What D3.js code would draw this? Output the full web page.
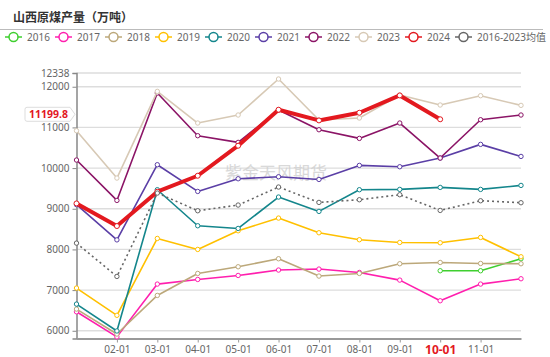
<!DOCTYPE html>
<html><head><meta charset="utf-8">
<script src="https://cdn.jsdelivr.net/npm/d3@7"></script>
<style>body{margin:0;background:#fff}svg{display:block;font-family:"Noto Sans","Noto Sans CJK SC",sans-serif}</style>
</head><body>
<svg id="c" width="550" height="357"></svg>
<script>
const title = "山西原煤产量（万吨）";
const watermark = "紫金天风期货";
const months = ["01-01","02-01","03-01","04-01","05-01","06-01","07-01","08-01","09-01","10-01","11-01","12-01"];
const shownMonths = ["02-01","03-01","04-01","05-01","06-01","07-01","08-01","09-01","10-01","11-01"];
const highlightMonth = "10-01";
const yTicks = [6000,7000,8000,9000,10000,11000,12000,12338];
const yMin = 5810, yMax = 12338;

const s2016 = [null,null,null,null,null,null,null,null,null,7476,7476,7771];
const s2017 = [6467,5850,7148,7262,7360,7493,7517,7434,7246,6738,7148,7279];
const s2018 = [6533,5920,6869,7410,7574,7771,7345,7410,7648,7680,7655,7648];
const s2019 = [7050,6380,8270,8000,8459,8771,8410,8238,8172,8164,8295,7820];
const s2020 = [6656,5995,9468,8582,8516,9288,8935,9468,9476,9525,9476,9574];
const s2021 = [9100,8235,10083,9426,9738,9787,9721,10066,10033,10247,10583,10287];
const s2022 = [10198,9205,11846,10796,10632,11428,10943,10730,11108,10247,11189,11305];
const s2023 = [10919,9755,11886,11108,11305,12190,11182,11231,11797,11551,11780,11542];
const s2024 = [9131,8575,9419,9812,10550,11435,11172,11361,11787,11199.8,null,null];
const sAvg  = [8155,7336,9386,8951,9091,9534,9156,9222,9345,8959,9197,9148];
const lastValue = 11199.8;

const series = [
  {name:"2016", data:s2016, color:"#3fcf2f"},
  {name:"2017", data:s2017, color:"#ff1fae"},
  {name:"2018", data:s2018, color:"#bca87a"},
  {name:"2019", data:s2019, color:"#ffc000"},
  {name:"2020", data:s2020, color:"#14868c"},
  {name:"2021", data:s2021, color:"#5b3fa6"},
  {name:"2022", data:s2022, color:"#8b1466"},
  {name:"2023", data:s2023, color:"#d7c9b5"},
  {name:"2024", data:s2024, color:"#e3191f", width:4},
  {name:"2016-2023均值", data:sAvg, color:"#666", dash:"2,3"}
];

const svg = d3.select("#c");
const x = d3.scalePoint().domain(months).range([76.5, 521]);
const y = d3.scaleLinear().domain([yMin, yMax]).range([338.5, 73]);

// title
svg.append("text").attr("x",13).attr("y",22).attr("font-size",12).attr("font-weight","bold")
  .attr("fill","#333").attr("font-family","Noto Sans CJK SC").text(title);
svg.append("line").attr("x1",0).attr("x2",543).attr("y1",29.5).attr("y2",29.5).attr("stroke","#bbb");

// legend
const lg = svg.append("g");
series.forEach((s,i)=>{
  const g = lg.append("g").attr("transform",`translate(${5+i*50},37)`);
  g.append("line").attr("x1",0).attr("x2",17).attr("stroke",s.color).attr("stroke-width",1.5);
  g.append("circle").attr("cx",8.5).attr("r",4.5).attr("fill","#fff").attr("stroke",s.color).attr("stroke-width",1.5);
  g.append("text").attr("x",22).attr("y",3.5).attr("font-size",10).attr("fill","#666").text(s.name);
});

// grid
svg.append("g").selectAll("line").data(yTicks).join("line")
  .attr("x1",76.5).attr("x2",521).attr("y1",d=>y(d)).attr("y2",d=>y(d))
  .attr("stroke","#ddd").attr("stroke-width",1.3);

// watermark
svg.append("text").attr("x",225).attr("y",179).attr("font-size",17).attr("fill","#d0d0d0")
  .attr("font-family","Noto Sans CJK SC").attr("opacity",0.8).text(watermark);

// y axis
const ya = svg.append("g").attr("transform","translate(76.5,0)")
  .call(d3.axisLeft(y).tickValues(yTicks).tickSize(4).tickPadding(3).tickFormat(d3.format("d")));
ya.select(".domain").attr("stroke","#888").attr("stroke-width",1.5);
ya.selectAll(".tick line").attr("stroke","#888");
ya.selectAll(".tick text").attr("font-size",10).attr("fill","#666").attr("font-family","Noto Sans");

// x axis
const xa = svg.append("g").attr("transform","translate(0,338.5)")
  .call(d3.axisBottom(x).tickValues(shownMonths).tickSize(4).tickPadding(3).tickSizeOuter(0));
xa.select(".domain").attr("stroke","#999").attr("stroke-width",2);
xa.selectAll(".tick line").attr("stroke","#999");
xa.selectAll(".tick text").attr("font-size",10).attr("fill","#666").attr("font-family","Noto Sans")
  .filter(d=>d===highlightMonth).attr("font-size",12).attr("font-weight","bold").attr("fill","#e3191f");

// lines
const line = d3.line().defined(d=>d.v!=null).x(d=>x(d.m)).y(d=>y(d.v));
series.forEach(s=>{
  const pts = s.data.map((v,i)=>({m:months[i],v}));
  const g = svg.append("g");
  g.append("path").attr("d",line(pts)).attr("fill","none").attr("stroke",s.color)
    .attr("stroke-width",s.width||1.6).attr("stroke-dasharray",s.dash||null).attr("stroke-linejoin","round");
  g.selectAll("circle").data(pts.filter(d=>d.v!=null)).join("circle")
    .attr("cx",d=>x(d.m)).attr("cy",d=>y(d.v)).attr("r",s.width?2.5:2.2)
    .attr("fill","#fff").attr("stroke",s.color).attr("stroke-width",1);
});

// last value label
const ly = y(lastValue)-5;
const lab = svg.append("g").attr("transform",`translate(0,${ly})`);
lab.append("path").attr("d","M27,-7 H70 L75,0 L70,7 H27 Q25,7 25,5 V-5 Q25,-7 27,-7 Z")
  .attr("fill","#fff").attr("stroke","#ddd");
lab.append("text").attr("x",48.5).attr("y",3.6).attr("text-anchor","middle").attr("font-size",10.5)
  .attr("font-weight","bold").attr("fill","#e3191f").text(d3.format(".1f")(lastValue));
</script>
</body></html>
